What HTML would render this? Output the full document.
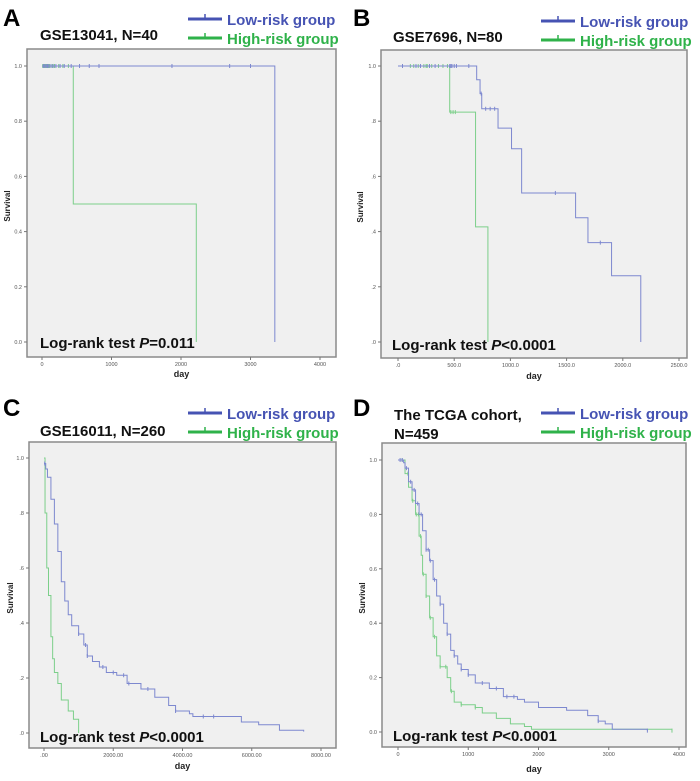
<!DOCTYPE html>
<html><head><meta charset="utf-8"><style>
body{margin:0;background:#fff;}
svg{display:block;font-family:"Liberation Sans",Arial,sans-serif;}
</style></head><body>
<svg id="fig" width="700" height="781" viewBox="0 0 700 781" xmlns="http://www.w3.org/2000/svg"></svg>
<script>
const NS="http://www.w3.org/2000/svg";
// Panel A data
const aLowT=[0,3350], aLowS=[1,0];
const aHighT=[0,450,2220], aHighS=[1,0.5,0];
const aLowCens=[20,40,60,80,100,130,160,200,260,320,420,540,680,820,1870,2700,3000];
const aHighCens=[10,30,50,70,90,110,150,180,240,300,380];
// Panel B data
const bLowT=[0,700,730,745,890,1010,1100,1580,1690,1900,2160], bLowS=[1,0.95,0.90,0.845,0.775,0.70,0.54,0.45,0.36,0.24,0];
const bHighT=[0,460,690,800], bHighS=[1,0.833,0.417,0];
const bLowCens=[40,160,200,280,330,460,470,480,500,520,630,740,780,820,860,1400,1800];
const bHighCens=[110,140,180,230,250,260,300,360,400,440,470,490,510];
// Panel C data
const cLowT=[0,50,100,200,300,400,500,600,700,800,1000,1150,1250,1400,1600,1800,2100,2400,2800,3200,3600,3800,4200,4300,5700,6200,6800,7500];
const cLowS=[0.98,0.96,0.93,0.85,0.76,0.66,0.55,0.48,0.43,0.39,0.36,0.32,0.28,0.26,0.24,0.22,0.21,0.18,0.16,0.13,0.10,0.08,0.07,0.06,0.04,0.03,0.01,0.005];
const cHighT=[0,30,80,130,200,250,300,400,500,700,850,1000], cHighS=[1,0.8,0.6,0.5,0.35,0.27,0.22,0.18,0.12,0.08,0.05,0];
const cLowCens=[20,1000,1200,1250,1700,2000,2300,2450,3000,3800,4600,4900];
const cHighCens=[];
// Panel D data
const dLowT=[0,80,100,150,200,250,300,350,400,450,500,550,600,650,700,750,800,850,900,1000,1100,1300,1500,1700,1800,2000,2400,2700,2850,2950,3050,3550];
const dLowS=[1,0.99,0.97,0.92,0.89,0.84,0.80,0.74,0.67,0.63,0.56,0.50,0.47,0.40,0.36,0.30,0.28,0.25,0.23,0.21,0.18,0.16,0.13,0.12,0.11,0.09,0.08,0.06,0.04,0.03,0.01,0.005];
const dHighT=[0,100,150,200,250,300,330,350,400,450,500,550,600,700,750,800,900,1100,1200,1400,1600,1800,1900,3900];
const dHighS=[1,0.95,0.9,0.85,0.80,0.72,0.65,0.58,0.50,0.42,0.35,0.28,0.24,0.20,0.15,0.11,0.10,0.09,0.07,0.05,0.03,0.02,0.01,0.005];
const dLowCens=[30,60,120,180,230,280,330,400,430,460,520,600,700,800,900,1000,1200,1400,1550,1650,2850,3550];
const dHighCens=[60,140,210,260,290,320,360,400,460,520,600,680,760,900,1100,3900];

const panels=[
 {id:"a",letter:"A",lx:3,ly:26,title:["GSE13041, N=40"],tx:40,ty:40,legx:188,legy:19,
  fx0:27,fx1:336,fy0:49,fy1:357,x0:42,x1:320,y1:66,y0:342,xmax:4000,
  xticks:[0,1000,2000,3000,4000],xlab:["0","1000","2000","3000","4000"],ylab:["0.0","0.2","0.4","0.6","0.8","1.0"],
  low:[aLowT,aLowS,aLowCens],high:[aHighT,aHighS,aHighCens],p:"=0.011",px:40,py:348,sx:7,dayy:377},
 {id:"b",letter:"B",lx:353,ly:26,title:["GSE7696, N=80"],tx:393,ty:42,legx:541,legy:21,
  fx0:381,fx1:687,fy0:50,fy1:358,x0:398,x1:679,y1:66,y0:342,xmax:2500,
  xticks:[0,500,1000,1500,2000,2500],xlab:[".0","500.0","1000.0","1500.0","2000.0","2500.0"],ylab:[".0",".2",".4",".6",".8","1.0"],
  low:[bLowT,bLowS,bLowCens],high:[bHighT,bHighS,bHighCens],p:"<0.0001",px:392,py:350,sx:360,dayy:379},
 {id:"c",letter:"C",lx:3,ly:416,title:["GSE16011, N=260"],tx:40,ty:436,legx:188,legy:413,
  fx0:29,fx1:336,fy0:442,fy1:748,x0:44,x1:321,y1:458,y0:733,xmax:8000,
  xticks:[0,2000,4000,6000,8000],xlab:[".00","2000.00","4000.00","6000.00","8000.00"],ylab:[".0",".2",".4",".6",".8","1.0"],
  low:[cLowT,cLowS,cLowCens],high:[cHighT,cHighS,cHighCens],p:"<0.0001",px:40,py:742,sx:10,dayy:769},
 {id:"d",letter:"D",lx:353,ly:416,title:["The TCGA cohort,","N=459"],tx:394,ty:420,legx:541,legy:413,
  fx0:382,fx1:686,fy0:443,fy1:747,x0:398,x1:679,y1:460,y0:732,xmax:4000,
  xticks:[0,1000,2000,3000,4000],xlab:["0","1000","2000","3000","4000"],ylab:["0.0","0.2","0.4","0.6","0.8","1.0"],
  low:[dLowT,dLowS,dLowCens],high:[dHighT,dHighS,dHighCens],p:"<0.0001",px:393,py:741,sx:362,dayy:772}
];
const svg=document.getElementById("fig");
function mk(tag,attrs,parent,text){const e=document.createElementNS(NS,tag);for(const k in attrs)e.setAttribute(k,attrs[k]);if(text!==undefined)e.textContent=text;(parent||svg).appendChild(e);return e;}
function stepPath(T,S,X,Y){let d="M"+X(T[0])+","+Y(S[0]);for(let i=1;i<T.length;i++){d+=" H"+X(T[i])+" V"+Y(S[i]);}return d;}
function survAt(T,S,t){let s=S[0];for(let i=0;i<T.length;i++){if(T[i]<=t)s=S[i];}return s;}
panels.forEach(p=>{
  const g=mk("g",{});
  
  
  const X=t=>p.x0+(t/p.xmax)*(p.x1-p.x0);
  const Y=s=>p.y0-s*(p.y0-p.y1);
  const L=mk("text",{x:p.lx,y:p.ly,"font-size":24,"font-weight":"bold",fill:"#000"},g,p.letter);
  
  p.title.forEach((t,i)=>{const e=mk("text",{x:p.tx,y:p.ty+i*19,"font-size":15,"font-weight":"bold",fill:"#111"},g,t);
    });
  [["Low-risk group","#4653b3",p.legy],["High-risk group","#2fb24a",p.legy+19]].forEach(([lab,c,y],i)=>{
    const lg=mk("g",{},g);
    
    
    mk("line",{x1:p.legx,x2:p.legx+34,y1:y,y2:y,stroke:c,"stroke-width":3},lg);
    mk("line",{x1:p.legx+17,x2:p.legx+17,y1:y-5,y2:y,stroke:c,"stroke-width":1.5},lg);
    mk("text",{x:p.legx+39,y:y+6,"font-size":15,"font-weight":"bold",fill:c},lg,lab);
  });
  const fr=mk("rect",{x:p.fx0,y:p.fy0,width:p.fx1-p.fx0,height:p.fy1-p.fy0,fill:"#f0f0f0",stroke:"#8a8a8a","stroke-width":1.5},g);
  
  p.ylab.forEach((l,i)=>{const v=i*0.2;
    mk("line",{x1:p.fx0-3,x2:p.fx0,y1:Y(v),y2:Y(v),stroke:"#777"},g);
    const t=mk("text",{x:p.fx0-5,y:Y(v)+2,"font-size":5.5,"text-anchor":"end",fill:"#555"},g,l);
    });
  p.xticks.forEach((v,i)=>{
    mk("line",{x1:X(v),x2:X(v),y1:p.fy1,y2:p.fy1+3,stroke:"#777"},g);
    const t=mk("text",{x:X(v),y:p.fy1+9,"font-size":5.5,"text-anchor":"middle",fill:"#555"},g,p.xlab[i]);
    });
  const yt=mk("text",{x:p.sx,y:(p.fy0+p.fy1)/2,"font-size":8,"font-weight":"bold","text-anchor":"middle",fill:"#222",transform:`rotate(-90 ${p.sx+3} ${(p.fy0+p.fy1)/2})`},g,"Survival");
  
  const xt=mk("text",{x:(p.fx0+p.fx1)/2,y:p.dayy,"font-size":9,"font-weight":"bold","text-anchor":"middle",fill:"#222"},g,"day");
  
  [[p.high,"#7ccf8a","high"],[p.low,"#7d88cf","low"]].forEach(([d,c,n])=>{
    const path=mk("path",{d:stepPath(d[0],d[1],X,Y),fill:"none",stroke:c,"stroke-width":1},g);
    
    d[2].forEach(t=>{const s=survAt(d[0],d[1],t);
      const m=mk("line",{x1:X(t),x2:X(t),y1:Y(s)-2,y2:Y(s)+2,stroke:c,"stroke-width":1},g);
      });
  });
  const pt=mk("text",{x:p.px,y:p.py,"font-size":15,"font-weight":"bold",fill:"#111"},g);
  
  mk("tspan",{},pt,"Log-rank test ");
  mk("tspan",{"font-style":"italic"},pt,"P");
  mk("tspan",{},pt,p.p);
});
</script>
</body></html>
